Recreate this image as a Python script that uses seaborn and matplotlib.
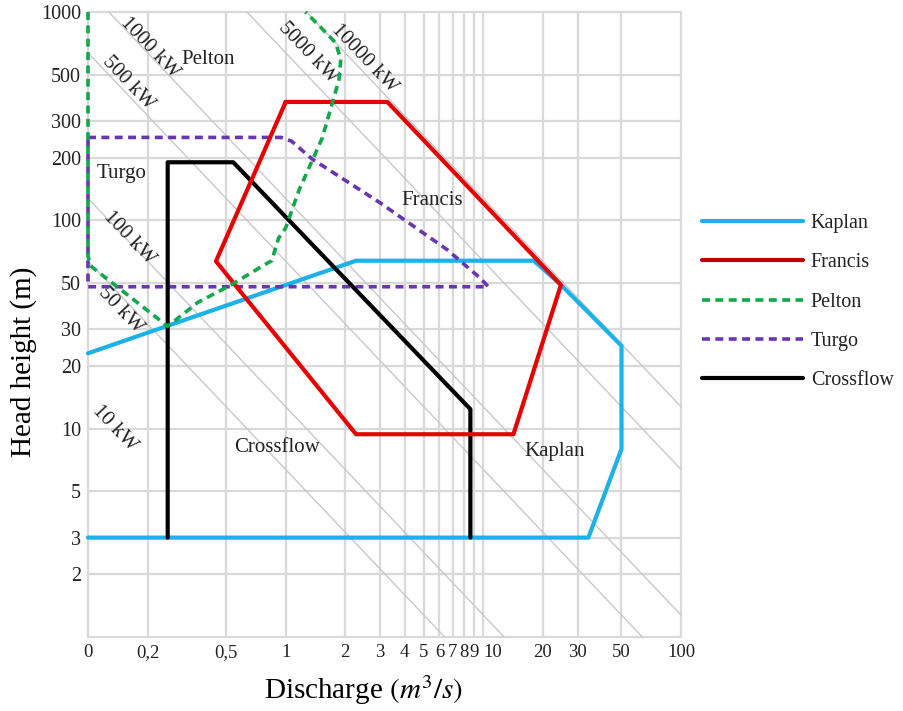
import matplotlib
matplotlib.use("Agg")
import matplotlib.pyplot as plt
from matplotlib.ticker import FixedLocator, FixedFormatter, NullLocator
from matplotlib.lines import Line2D
import numpy as np
import seaborn as sns

# Turbine application envelopes: discharge Q (m3/s) against head H (m)
kaplan_q = [0.1, 34, 50, 50, 24.7, 18, 2.27, 0.1]
kaplan_h = [3, 3, 8, 25, 49, 64, 64, 23]

francis_q = [1.0, 3.27, 24.7, 14.2, 2.27, 0.444, 1.0]
francis_h = [370, 370, 49, 9.4, 9.4, 63.6, 370]

pelton_q = [0.1, 0.1, 0.104, 0.253, 0.36, 0.53, 0.755, 0.85, 0.92, 1.0,
            1.17, 1.53, 1.86, 1.9, 1.79, 1.47, 1.26]
pelton_h = [1000, 67, 60, 31, 40.4, 49, 60, 64, 82, 92,
            140, 248, 472, 592, 711, 864, 1000]

turgo_q = [0.1, 0.95, 1.07, 1.36, 2.98, 6.55, 9.6, 10.6, 0.1, 0.1]
turgo_h = [250, 250, 240, 197, 122, 72.4, 53, 48, 48, 250]

crossflow_q = [0.253, 0.253, 0.543, 8.6, 8.6]
crossflow_h = [3, 190, 190, 12.4, 3]

# Constant-power lines P = 9.81 * eta * Q * H (kW)
power_kw = [50, 100, 500, 1000, 5000, 10000]
efficiency = 0.8

# Power labels (text, Q, H at the label centre)
power_labels = ["10 kW", "50 kW", "100 kW", "500 kW", "1000 kW", "5000 kW", "10000 kW"]
power_label_q = [0.136, 0.146, 0.162, 0.160, 0.205, 1.29, 2.5]
power_label_h = [10.0, 37.0, 82.0, 456.0, 670.0, 637.0, 600.0]

# Region names
region_names = ["Pelton", "Turgo", "Francis", "Crossflow", "Kaplan"]
region_q = [0.405, 0.147, 5.5, 0.9, 23.0]
region_h = [594.0, 167.0, 125.0, 8.1, 7.8]

# Axis ticks
x_ticks = [0.1, 0.2, 0.5, 1, 2, 3, 4, 5, 6, 7, 8, 9, 10, 20, 30, 50, 100]
x_tick_labels = ["0", "0,2", "0,5", "1", "2", "3", "4", "5", "6", "7", "8",
                 "9", "10", "20", "30", "50", "100"]
y_ticks = [1, 2, 3, 5, 10, 20, 30, 50, 100, 200, 300, 500, 1000]
y_tick_labels = ["", "2", "3", "5", "10", "20", "30", "50", "100", "200",
                 "300", "500", "1000"]

sns.set_theme(style="white")
plt.rcParams["font.family"] = ["Liberation Serif", "DejaVu Serif"]
plt.rcParams["mathtext.fontset"] = "stix"

fig = plt.figure(figsize=(9.04, 7.11), dpi=100)
ax = fig.add_axes([88 / 904, 1 - 637 / 711, 593 / 904, 625 / 711])
ax.set_xscale("log")
ax.set_yscale("log")
ax.set_xlim(0.1, 100)
ax.set_ylim(1, 1000)

text_color = "#222222"
grid_color = "#d9d9d9"
diag_color = "#c9c9c9"

# grid
ax.xaxis.set_major_locator(FixedLocator(x_ticks))
ax.xaxis.set_major_formatter(FixedFormatter(x_tick_labels))
ax.yaxis.set_major_locator(FixedLocator(y_ticks))
ax.yaxis.set_major_formatter(FixedFormatter(y_tick_labels))
ax.xaxis.set_minor_locator(NullLocator())
ax.yaxis.set_minor_locator(NullLocator())
ax.grid(True, which="major", color=grid_color, linewidth=1.6, clip_on=False, zorder=0)
ax.set_axisbelow(True)
for s in ax.spines.values():
    s.set_visible(False)
ax.tick_params(axis="both", length=0, colors=text_color)
ax.tick_params(axis="x", pad=5, labelsize=13.5)
ax.tick_params(axis="y", pad=5, labelsize=14.5)

# constant-power diagonals
k = 9.81 * efficiency
q_span = np.array([0.1, 100.0])
for p in power_kw:
    ax.plot(q_span, p / (k * q_span), color=diag_color, linewidth=1.0, zorder=1)

# display angle of a Q*H = const line
bbox = ax.get_window_extent()
angle = -np.degrees(np.arctan((bbox.height / 3.0) / (bbox.width / 3.0)))
for lab, q, h in zip(power_labels, power_label_q, power_label_h):
    ax.text(q, h, lab, rotation=angle, rotation_mode="anchor", ha="center",
            va="center", fontsize=15, color=text_color, zorder=2)

for name, q, h in zip(region_names, region_q, region_h):
    ax.text(q, h, name, ha="center", va="center", fontsize=15,
            color=text_color, zorder=2)

# turbine envelopes
styles = {
    "Kaplan": dict(color="#1ab2e8", linestyle="-"),
    "Francis": dict(color="#e60000", linestyle="-"),
    "Pelton": dict(color="#10a84a", linestyle=(0, (2.2, 1.5))),
    "Turgo": dict(color="#6a35b0", linestyle=(0, (2.2, 1.5))),
    "Crossflow": dict(color="#000000", linestyle="-"),
}
legend_colors = {"Francis": "#c00000"}

series = [
    ("Kaplan", kaplan_q, kaplan_h, 3),
    ("Turgo", turgo_q, turgo_h, 4),
    ("Crossflow", crossflow_q, crossflow_h, 5),
    ("Francis", francis_q, francis_h, 6),
    ("Pelton", pelton_q, pelton_h, 7),
]
for name, q, h, z in series:
    lw = 3.0 if styles[name]["linestyle"] == "-" else 2.6
    sns.lineplot(x=q, y=h, sort=False, estimator=None, ax=ax,
                 color=styles[name]["color"], linestyle=styles[name]["linestyle"],
                 linewidth=lw, zorder=z, clip_on=False)

handles = []
order = ["Kaplan", "Francis", "Pelton", "Turgo", "Crossflow"]
for name in order:
    lw = 3.0 if styles[name]["linestyle"] == "-" else 2.6
    handles.append(Line2D([0], [0], color=legend_colors.get(name, styles[name]["color"]),
                          linestyle=styles[name]["linestyle"], linewidth=lw))
leg = fig.legend(handles, order, loc="upper left",
                 bbox_to_anchor=(702 / 904, 1 - 214 / 711), frameon=False,
                 fontsize=14.5, handlelength=5.0, handletextpad=0.4,
                 labelspacing=1.0, borderpad=0, borderaxespad=0)
for t in leg.get_texts():
    t.set_color(text_color)

ax.set_xlabel(r"Discharge $(m^3/s)$", fontsize=21, color="black")
ax.set_ylabel("Head height (m)", fontsize=21, color="black")
ax.xaxis.set_label_coords(0.465, -0.058)
ax.yaxis.set_label_coords(-0.086, 0.44)

# the "10" label sits just right of its gridline, after the tight 5..9 run
fig.canvas.draw()
for tick_label in ax.get_xticklabels():
    if tick_label.get_text() == "10":
        tick_label.set_horizontalalignment("left")

fig.savefig("out.png", dpi=100)
